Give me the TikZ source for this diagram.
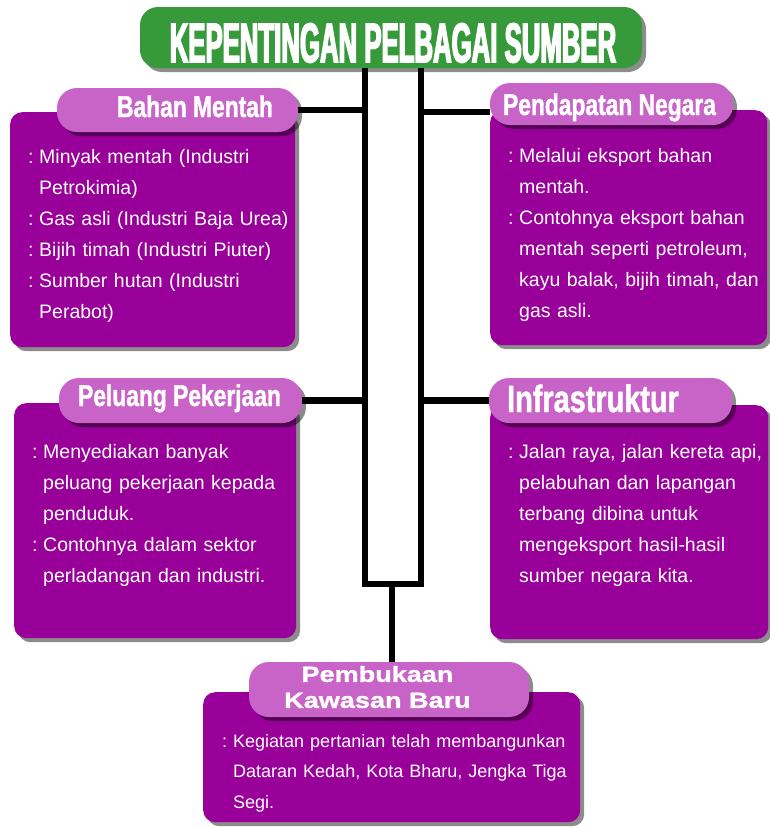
\documentclass[tikz,border=0pt]{standalone}
\usepackage{fontspec}
\setmainfont{Liberation Sans}
\newfontfamily\titlefont[FakeStretch=0.46,FakeBold=2.5]{Liberation Sans}
\newfontfamily\headfont[FakeStretch=0.76,FakeBold=1.2]{Liberation Sans}
\newfontfamily\widefont[FakeStretch=1.23,FakeBold=1.2]{Liberation Sans}
\usetikzlibrary{shadows}
\definecolor{titlegreen}{HTML}{36993A}
\definecolor{bodypurple}{HTML}{990099}
\definecolor{headpurple}{HTML}{C864C8}
\newcommand{\itm}{\makebox[11pt][l]{:}}
\newcommand{\cnt}{\hspace*{11pt}}

\begin{document}
\begin{tikzpicture}[x=1pt, y=-1pt, every node/.style={inner sep=0pt},
    bodybox/.style={rectangle, rounded corners=12pt, fill=bodypurple, anchor=north west,
        drop shadow={shadow xshift=4pt, shadow yshift=-4pt, opacity=0.45, fill=black}},
    headbox/.style={rectangle, rounded corners=20pt, fill=headpurple,
        drop shadow={shadow xshift=4pt, shadow yshift=-4pt, opacity=0.45, fill=black}},
    hdtext/.style={text=white, font=\headfont\bfseries\fontsize{30}{30}\selectfont, anchor=base},
    bodytext/.style={text=white, font=\fontsize{19.5}{31}\selectfont, text width=280pt, align=left, anchor=base west},
    link/.style={line width=6.5pt}]
        \useasboundingbox (0,0) rectangle (769,827);
        \fill[white] (0,0) rectangle (769,827);
        % title
        \node[rectangle, rounded corners=18pt, fill=titlegreen, minimum width=502pt, minimum height=61pt,
            drop shadow={shadow xshift=4pt, shadow yshift=-4pt, opacity=0.45, fill=black}] (title) at (391,37.5) {};
        \path (title.center) ++(2,5.5) node[text=white, font=\titlefont\bfseries\fontsize{56}{56}\selectfont] (titlelabel) {KEPENTINGAN PELBAGAI SUMBER};
        % Bahan Mentah
        \node[bodybox, minimum width=285pt, minimum height=235pt] (bmbox) at (10,112) {};
        \node[headbox, minimum width=241pt, minimum height=44pt] (bm) at (177.5,110) {};
        \path (bm.center) ++(17.5,7) node[hdtext] (bmlabel) {Bahan Mentah};
        \path (bmbox.north west) ++(18,51) node[bodytext] (bmtext) {\itm Minyak mentah (Industri\\ \cnt Petrokimia)\\ \itm Gas asli (Industri Baja Urea)\\ \itm Bijih timah (Industri Piuter)\\ \itm Sumber hutan (Industri\\ \cnt Perabot)};
        % Pendapatan Negara
        \node[bodybox, minimum width=277pt, minimum height=235pt] (pnbox) at (490,110) {};
        \node[headbox, minimum width=243pt, minimum height=42pt] (pn) at (611.5,104) {};
        \path (pn.center) ++(-2,11) node[hdtext] (pnlabel) {Pendapatan Negara};
        \path (pnbox.north west) ++(18,52) node[bodytext] (pntext) {\itm Melalui eksport bahan\\ \cnt mentah.\\ \itm Contohnya eksport bahan\\ \cnt mentah seperti petroleum,\\ \cnt kayu balak, bijih timah, dan\\ \cnt gas asli.};
        % Peluang Pekerjaan
        \node[bodybox, minimum width=282pt, minimum height=235pt] (ppbox) at (14,403) {};
        \node[headbox, minimum width=243pt, minimum height=45pt] (pp) at (180.5,400.5) {};
        \path (pp.center) ++(-1,5.5) node[hdtext] (pplabel) {Peluang Pekerjaan};
        \path (ppbox.north west) ++(18,55) node[bodytext] (pptext) {\itm Menyediakan banyak\\ \cnt peluang pekerjaan kepada\\ \cnt penduduk.\\ \itm Contohnya dalam sektor\\ \cnt perladangan dan industri.};
        % Infrastruktur
        \node[bodybox, minimum width=278pt, minimum height=234pt] (infbox) at (490,405) {};
        \node[headbox, minimum width=243pt, minimum height=45pt] (inf) at (610.5,400.5) {};
        \path (inf.center) ++(-17.5,11.5) node[hdtext, font=\headfont\bfseries\fontsize{38}{38}\selectfont] (inflabel) {Infrastruktur};
        \path (infbox.north west) ++(18,53) node[bodytext] (inftext) {\itm Jalan raya, jalan kereta api,\\ \cnt pelabuhan dan lapangan\\ \cnt terbang dibina untuk\\ \cnt mengeksport hasil-hasil\\ \cnt sumber negara kita.};
        % Pembukaan Kawasan Baru
        \node[bodybox, minimum width=377pt, minimum height=130pt] (pbbox) at (203,692) {};
        \node[headbox, minimum width=280pt, minimum height=55pt] (pb) at (389,689.5) {};
        \path (pb.center) ++(-11.5,-2.5) node[text=white, font=\widefont\bfseries\fontsize{22}{26}\selectfont, align=center] (pblabel) {Pembukaan\\ Kawasan Baru};
        \path (pbbox.north west) ++(19,55) node[bodytext, text width=365pt, font=\fontsize{18}{30.5}\selectfont] (pbtext) {\itm Kegiatan pertanian telah membangunkan\\ \cnt Dataran Kedah, Kota Bharu, Jengka Tiga\\ \cnt Segi.};
        % frame and links
        \coordinate (frameL) at (365,584);
        \coordinate (frameR) at (421,584);
        \coordinate (stem) at (392,584);
        \draw[link] (title.south -| frameL) -- (frameL) -- (frameR) -- (title.south -| frameR);
        \draw[link] (stem) -- (stem |- pb.north);
        \draw[link] (bm.east) -- (bm.east -| frameL);
        \draw[link] ([yshift=-8pt]pn.west) -- ([yshift=-8pt]pn.west -| frameR);
        \draw[link] (pp.east) -- (pp.east -| frameL);
        \draw[link] (inf.west) -- (inf.west -| frameR);
    \end{tikzpicture}
\end{document}
